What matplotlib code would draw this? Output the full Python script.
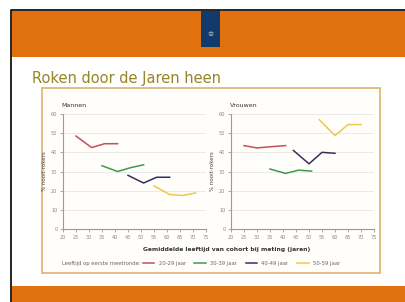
import matplotlib.pyplot as plt
from matplotlib.patches import Rectangle

groups = ['20-29 jaar', '30-39 jaar', '40-49 jaar', '50-59 jaar']
colors = ['#c0505a', '#3f9a4c', '#3b2d5c', '#ecc94b']

men_age = [[25, 31, 36, 41], [35, 41, 46, 51], [45, 51, 56, 61], [55, 61, 66, 71]]
men_pct = [[48.5, 42.5, 44.5, 44.5], [33, 30, 32, 33.5], [28, 24, 27, 27], [22.5, 18, 17.5, 18.8]]

women_age = [[25, 30, 36, 41], [35, 41, 46, 51], [44, 50, 55, 60], [54, 60, 65, 70]]
women_pct = [[43.5, 42.3, 43, 43.5], [31.3, 29, 30.7, 30.2], [41, 34, 40, 39.5], [57, 48.7, 54.5, 54.5]]

xticks = list(range(20, 80, 5))
yticks = list(range(0, 70, 10))

W, H = 405, 302
fig = plt.figure(figsize=(W / 100, H / 100), dpi=100)
fig.patch.set_facecolor('white')

# slide background drawn in pixel coords
bg = fig.add_axes([0, 0, 1, 1])
bg.set_xlim(0, W)
bg.set_ylim(H, 0)
bg.axis('off')
bg.add_patch(Rectangle((11, 10), W - 11, H - 10, facecolor='white', edgecolor='none'))
bg.plot([11, 11, W], [H, 10, 10], color='black', lw=1.2)
bg.add_patch(Rectangle((11.6, 10.6), W - 11, 46.4, facecolor='#e1710f', edgecolor='none'))
bg.add_patch(Rectangle((11.6, 286), W - 11, 16, facecolor='#e1710f', edgecolor='none'))
bg.add_patch(Rectangle((201, 10.6), 19, 36.4, facecolor='#123a6b', edgecolor='none'))
bg.text(210.5, 34, '♔', color='#f2e6c8', fontsize=5, ha='center', va='center')
bg.text(32, 78, 'Roken door de Jaren heen', color='#958428', fontsize=10.5,
        ha='left', va='center', family='DejaVu Sans')
bg.add_patch(Rectangle((42, 88), 338, 185, facecolor='#fffefb', edgecolor='#e3b77a', lw=1.3))


def panel(rect, title, ages, pcts):
    ax = fig.add_axes(rect)
    for a, p, c in zip(ages, pcts, colors):
        ax.plot(a, p, color=c, lw=1.1)
    ax.set_xlim(20, 75)
    ax.set_ylim(0, 60)
    ax.set_xticks(xticks)
    ax.set_yticks(yticks)
    ax.tick_params(labelsize=3.6, colors='#888888', length=2, width=0.5, pad=2)
    ax.grid(axis='y', color='#e6e6e6', lw=0.6)
    ax.set_axisbelow(True)
    for s in ['top', 'right']:
        ax.spines[s].set_visible(False)
    for s in ['left', 'bottom']:
        ax.spines[s].set_color('#9a9a9a')
        ax.spines[s].set_linewidth(0.8)
    ax.set_facecolor('none')
    ax.set_title(title, fontsize=4.5, loc='left', x=-0.01, pad=5, color='#333333')
    ax.set_ylabel('% nooit-rokers', fontsize=4, color='#444444', labelpad=3)
    return ax


panel([63 / W, 1 - 229 / H, 143 / W, 115 / H], 'Mannen', men_age, men_pct)
panel([231 / W, 1 - 229 / H, 143 / W, 115 / H], 'Vrouwen', women_age, women_pct)

fig.text(227 / W, 1 - 249 / H, 'Gemiddelde leeftijd van cohort bij meting (jaren)',
         fontsize=4.3, fontweight='bold', color='#333333', ha='center', va='center')
fig.text(62 / W, 1 - 263 / H, 'Leeftijd op eerste meetronde:', fontsize=3.8,
         color='#666666', ha='left', va='center')

handles = [plt.Line2D([], [], color=c, lw=1.1) for c in colors]
fig.legend(handles, groups, loc='center left', bbox_to_anchor=(138 / W, 1 - 263 / H),
           ncol=4, frameon=False, fontsize=3.8, handlelength=2.2, handletextpad=0.8,
           columnspacing=1.6, labelcolor='#666666')

fig.savefig('out.png', dpi=100)
